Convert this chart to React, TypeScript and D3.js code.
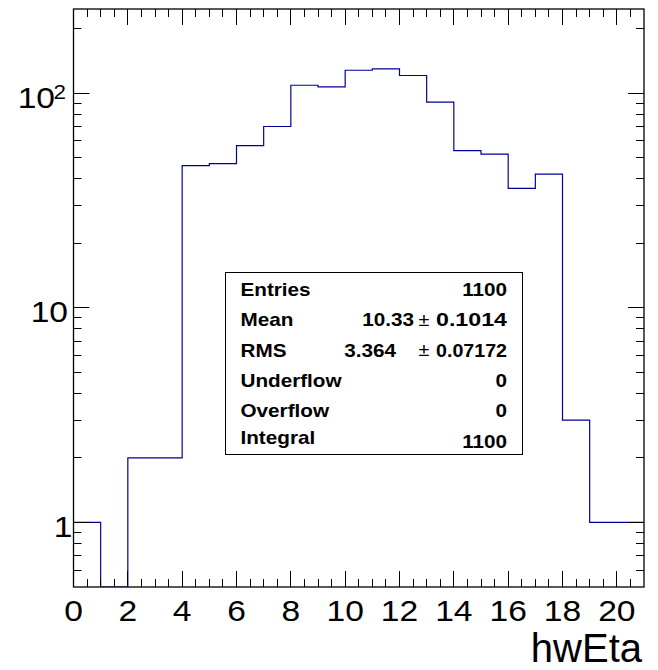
import React from 'react';
import * as d3 from 'd3';

// histogram contents, one bin per unit of hwEta
const binLow = [0, 1, 2, 3, 4, 5, 6, 7, 8, 9, 10, 11, 12, 13, 14, 15, 16, 17, 18, 19, 20];
const counts = [1, 0, 2, 2, 46, 47, 57, 70, 109, 107, 128, 130, 121, 91, 54, 52, 36, 42, 3, 1, 1];
const binWidth = 1;

const xTickValues = [0, 2, 4, 6, 8, 10, 12, 14, 16, 18, 20];
const yTickValues = [1, 10, 100];
const axisTitle = 'hwEta';

// stats box
const statLabels = ['Entries', 'Mean', 'RMS', 'Underflow', 'Overflow', 'Integral'];
const statValues = ['1100', '10.33', '3.364', '0', '0', '1100'];
const statErrors = ['', '0.1014', '0.07172', '', '', ''];

const W = 658;
const H = 670;
const frame = { left: 73.5, right: 644, top: 9, bottom: 587 };
const FONT = '"Liberation Sans", Arial, Helvetica, sans-serif';
const HIST_COLOR = '#000099';
const MAJOR = 16;
const MINOR = 8;

// snap to pixel centre so 1px ticks stay sharp
const crisp = (v: number) => Math.round(v - 0.5) + 0.5;

export default function App() {
  const x = d3.scaleLinear().domain([0, 21]).range([frame.left, frame.right]);
  const y = d3.scaleLog().domain([0.5, 247]).range([frame.bottom, frame.top]);

  const last = binLow.length - 1;
  const pts: [number, number][] = binLow.map((b, i) => [b, counts[i]]);
  pts.push([binLow[last] + binWidth, counts[last]]);

  const histPath = d3
    .line<[number, number]>()
    .x((d) => x(d[0]))
    .y((d) => (d[1] > 0 ? y(d[1]) : frame.bottom))
    .curve(d3.curveStepAfter)(pts) as string;

  // tick positions
  const xMinor = d3.range(0.5, 21, 0.5).filter((v) => v % 2 !== 0);
  const yAll = y.ticks().filter((v) => v > 0.5);
  const isDecade = (v: number) => Math.abs(Math.log10(v) - Math.round(Math.log10(v))) < 1e-6;
  const yMinor = yAll.filter((v) => !isDecade(v));

  const tickLines: JSX.Element[] = [];
  const xTick = (v: number, len: number, k: string) => {
    const px = crisp(x(v));
    tickLines.push(<line key={`b${k}`} x1={px} x2={px} y1={frame.bottom} y2={frame.bottom - len} />);
    tickLines.push(<line key={`t${k}`} x1={px} x2={px} y1={frame.top} y2={frame.top + len} />);
  };
  const yTick = (v: number, len: number, k: string) => {
    const py = crisp(y(v));
    tickLines.push(<line key={`l${k}`} x1={frame.left} x2={frame.left + len} y1={py} y2={py} />);
    tickLines.push(<line key={`r${k}`} x1={frame.right} x2={frame.right - len} y1={py} y2={py} />);
  };
  xTickValues.forEach((v) => xTick(v, MAJOR, `x${v}`));
  xMinor.forEach((v) => xTick(v, MINOR, `xm${v}`));
  yTickValues.forEach((v) => yTick(v, MAJOR, `y${v}`));
  yMinor.forEach((v) => yTick(v, MINOR, `ym${v}`));

  // stats box layout
  const box = { x: 225.5, y: 272.5, w: 297, h: 182 };
  const rowBase = (i: number) => 296 + i * 30.3;
  const valueRight = [507, 414, 396, 507, 507, 507];

  return (
    <svg
      width={W}
      height={H}
      viewBox={`0 0 ${W} ${H}`}
      style={{ position: 'absolute', left: 0, top: 0, background: '#fff' }}
      fontFamily={FONT}
    >
      <rect x={0} y={0} width={W} height={H} fill="#fff" />
      <defs>
        <clipPath id="frameClip">
          <rect x={frame.left} y={frame.top} width={frame.right - frame.left} height={frame.bottom - frame.top} />
        </clipPath>
      </defs>

      <path d={histPath} fill="none" stroke={HIST_COLOR} strokeWidth={1.2} clipPath="url(#frameClip)" />

      <g stroke="#000" strokeWidth={1}>{tickLines}</g>
      <rect
        x={frame.left}
        y={frame.top}
        width={frame.right - frame.left}
        height={frame.bottom - frame.top}
        fill="none"
        stroke="#000"
        strokeWidth={1.3}
      />

      {/* x tick labels */}
      {xTickValues.map((v) => (
        <text
          key={`xl${v}`}
          transform={`translate(${x(v)},620.5) scale(1.12,1)`}
          textAnchor="middle"
          fontSize={30}
          fill="#000"
        >
          {v}
        </text>
      ))}

      {/* y tick labels */}
      {yTickValues.map((v) => {
        const py = y(v) + 14.5;
        if (v === 100) {
          return (
            <g key={`yl${v}`}>
              <text transform={`translate(55,${py}) scale(1.12,1)`} textAnchor="end" fontSize={30}>
                10
              </text>
              <text transform={`translate(53.5,${py - 8.5}) scale(1.12,1)`} fontSize={20}>
                2
              </text>
            </g>
          );
        }
        const ax = String(v).length === 1 ? 72.5 : 68;
        return (
          <text key={`yl${v}`} transform={`translate(${ax},${py}) scale(1.12,1)`} textAnchor="end" fontSize={30}>
            {v}
          </text>
        );
      })}

      <text x={642} y={662} textAnchor="end" fontSize={40}>
        {axisTitle}
      </text>

      {/* stats box */}
      <rect x={box.x} y={box.y} width={box.w} height={box.h} fill="#fff" stroke="#000" strokeWidth={1} />
      {statLabels.map((lab, i) => (
        <g key={lab} fontWeight="bold" fontSize={18}>
          <text transform={`translate(240.5,${rowBase(i) - (lab === 'Integral' ? 3.5 : 0)}) scale(1.15,1)`}>{lab}</text>
          <text transform={`translate(${valueRight[i]},${rowBase(i)}) scale(1.15,1)`} textAnchor="end">
            {statValues[i]}
          </text>
          {statErrors[i] && (
            <>
              <text
                transform={`translate(424,${rowBase(i) - 0.5}) scale(1.1,1)`}
                textAnchor="middle"
                fontWeight="normal"
                fontSize={18}
              >
                ±
              </text>
              <text x={436} y={rowBase(i)} textLength={71} lengthAdjust="spacingAndGlyphs">
                {statErrors[i]}
              </text>
            </>
          )}
        </g>
      ))}
    </svg>
  );
}
